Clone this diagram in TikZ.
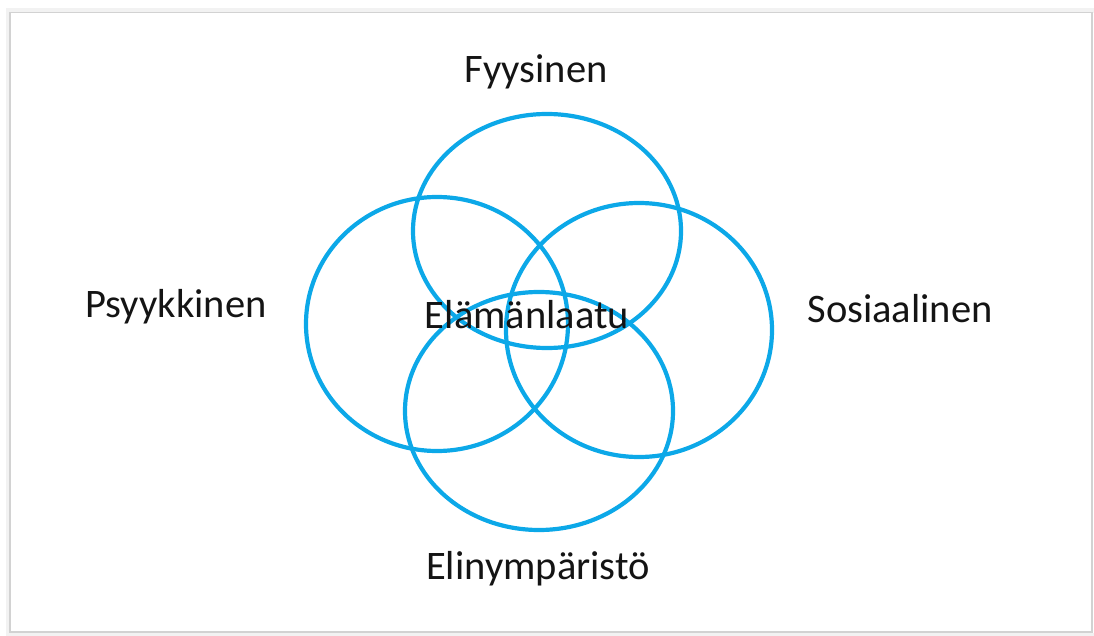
\documentclass[tikz,border=0pt]{standalone}
\usepackage{fontspec}
\setmainfont{Carlito}
\usepackage{tikz}
\definecolor{ringblue}{RGB}{12,168,232}
\definecolor{labeltext}{RGB}{20,20,20}

\begin{document}
\begin{tikzpicture}[x=1pt, y=-1pt,
    lbl/.style={text=labeltext, inner sep=0pt, anchor=base,
                font=\fontsize{40.5}{48}\selectfont}]
    \useasboundingbox (0,0) rectangle (1094,636);
    % Frame with a soft shadow
    \draw[gray!10, line width=5pt] (8,10.5) rectangle (1096,635);
    \draw[gray!35, line width=1.2pt] (10,12.5) rectangle (1092,632);

    % Four overlapping circles
    \foreach \cx/\cy/\rx/\ry in {547/231/134/117, 437/324/131/127,
                                 639/330/133/127, 539/411/134/119}
        \draw[ringblue, line width=4.2pt] (\cx,\cy) ellipse ({\rx pt} and {\ry pt});

    % Labels
    \node[lbl] (fyys) at (536,83) {Fyysinen};
    \node[lbl] (psyk) at (176,317) {Psyykkinen};
    \node[lbl] (sosi) at (900,322) {Sosiaalinen};
    \node[lbl] (elama) at (527,328) {Elämänlaatu};
    \node[lbl] (elin) at (538,579) {Elinympäristö};
\end{tikzpicture}
\end{document}
